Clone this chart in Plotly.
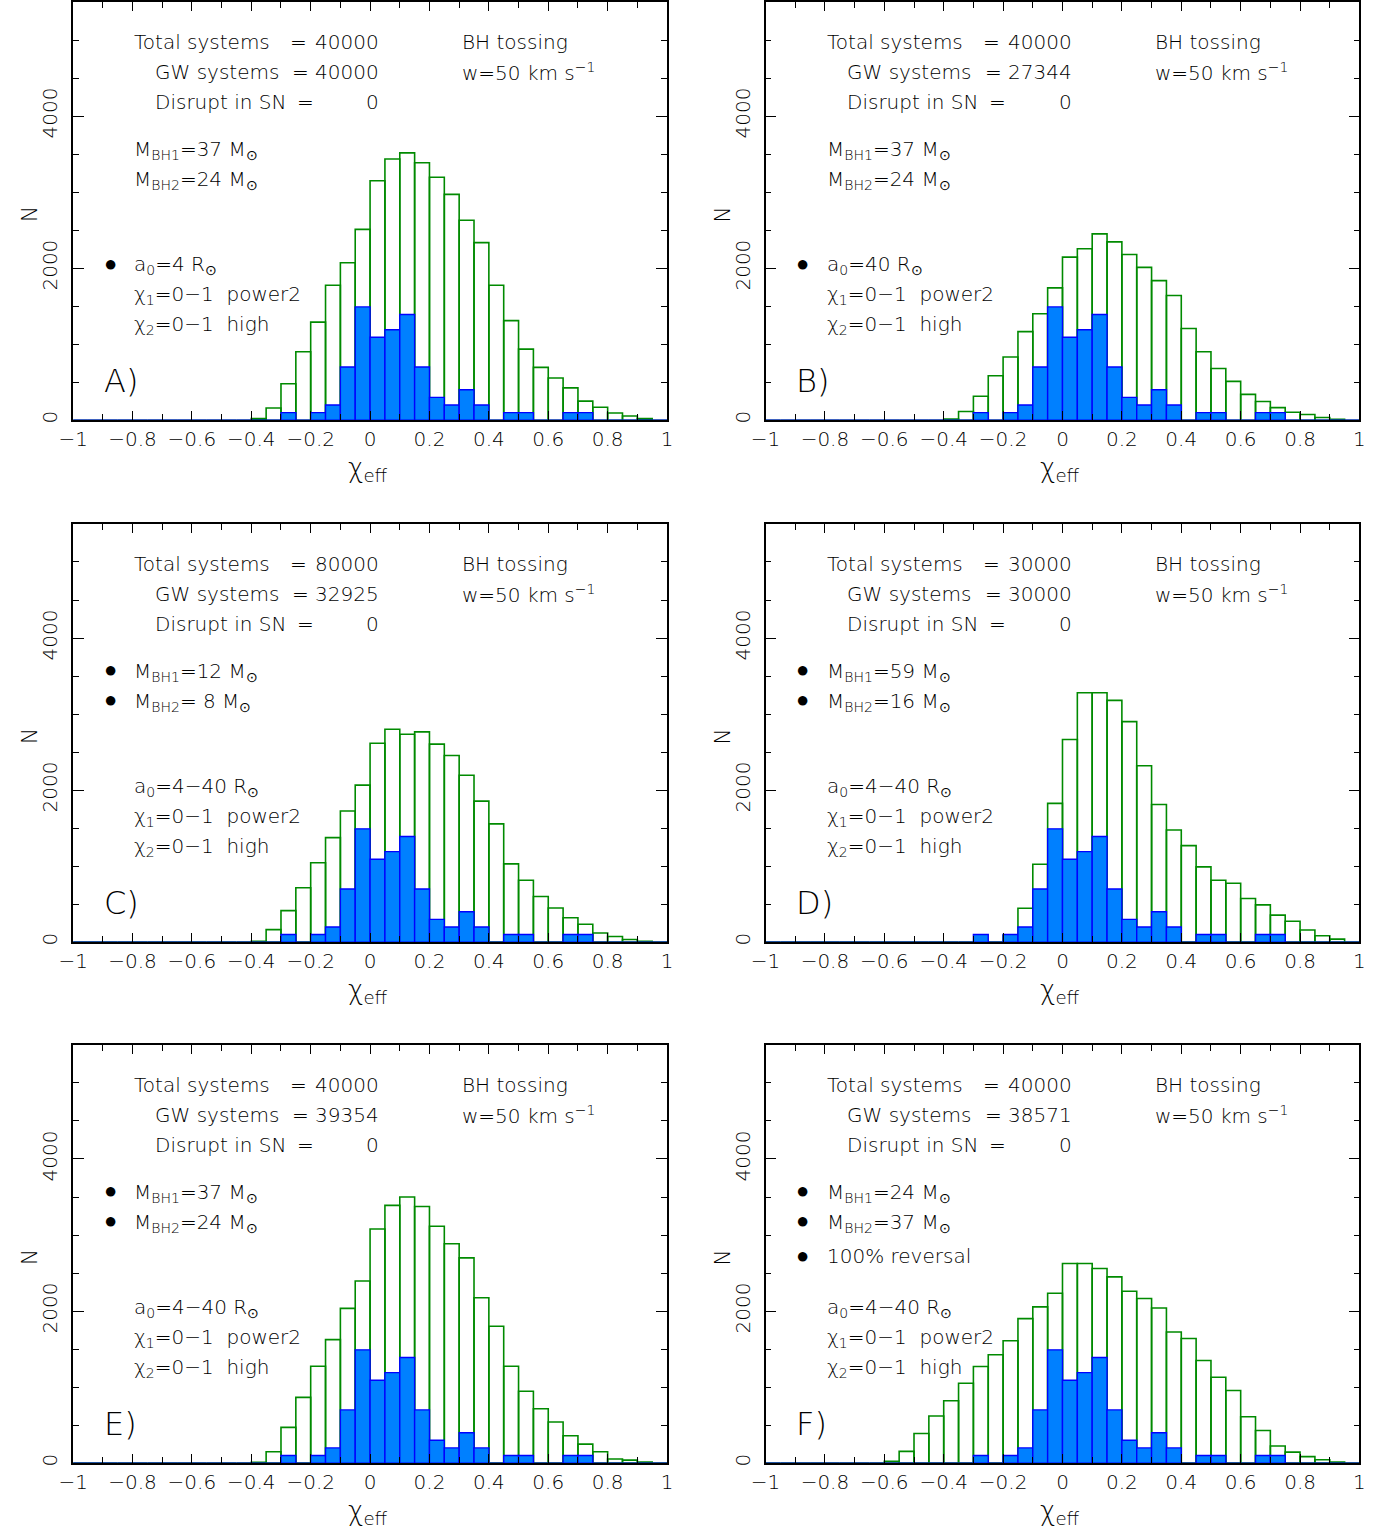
import numpy as np
import plotly.graph_objects as go

W, H = 1395, 1532

# ---------------- data ----------------
bin_edges = np.round(np.arange(-1.0, 1.0001, 0.05), 3)
bin_centers = (bin_edges[:-1] + bin_edges[1:]) / 2

observed = [0]*14 + [100, 0, 100, 200, 700, 1490, 1090, 1190, 1390, 700, 300, 200, 400, 200,
                     0, 100, 100, 0, 0, 100, 100, 0, 0, 0, 0, 0]

model_A = [0]*12 + [20, 160, 480, 900, 1290, 1775, 2070, 2510, 3150, 3435, 3515, 3385, 3195, 2970,
                    2630, 2335, 1775, 1310, 935, 695, 555, 425, 250, 170, 95, 55, 20, 0]
model_B = [0]*12 + [15, 115, 315, 585, 830, 1165, 1400, 1740, 2145, 2255, 2450, 2345, 2180, 2010,
                    1835, 1640, 1205, 900, 680, 510, 340, 245, 165, 105, 75, 35, 10, 0]
model_C = [0]*12 + [10, 165, 415, 715, 1045, 1375, 1725, 2065, 2615, 2800, 2735, 2765, 2605, 2455,
                    2195, 1855, 1555, 1030, 815, 600, 450, 320, 235, 120, 75, 35, 10, 0]
model_D = [0]*14 + [0, 0, 90, 445, 1025, 1825, 2665, 3280, 3280, 3180, 2900, 2320,
                    1810, 1475, 1270, 990, 815, 775, 575, 490, 355, 275, 160, 85, 40, 0]
model_E = [0]*12 + [10, 150, 470, 865, 1275, 1625, 2035, 2395, 3080, 3390, 3500, 3375, 3115, 2885,
                    2700, 2175, 1800, 1275, 945, 715, 540, 360, 250, 150, 55, 40, 15, 0]
model_F = [0]*8 + [25, 155, 390, 620, 820, 1050, 1270, 1425, 1610, 1900, 2055, 2235, 2625, 2625,
                   2560, 2450, 2260, 2165, 2040, 1725, 1640, 1350, 1130, 955, 610, 430, 225, 145,
                   85, 45, 15, 0]

x_tickvals = [-1, -0.8, -0.6, -0.4, -0.2, 0, 0.2, 0.4, 0.6, 0.8, 1]
x_ticktext = ["\u22121", "\u22120.8", "\u22120.6", "\u22120.4", "\u22120.2", "0", "0.2", "0.4", "0.6", "0.8", "1"]
y_tickvals = [0, 2000, 4000]
y_ticktext = ["0", "2000", "4000"]

panel_letters = ["A)", "B)", "C)", "D)", "E)", "F)"]
total_systems = ["40000", "40000", "80000", "30000", "40000", "40000"]
gw_systems = ["40000", "27344", "32925", "30000", "39354", "38571"]
disrupt = ["0", "0", "0", "0", "0", "0"]
mbh1 = ["37", "37", "12", "59", "37", "24"]
mbh2 = ["24", "24", " 8", "16", "24", "37"]
a0_text = ["4", "40", "4\u221240", "4\u221240", "4\u221240", "4\u221240"]
mass_bullet = [False, False, True, True, True, True]
a0_bullet = [True, True, False, False, False, False]
reversal = [False, False, False, False, False, True]
models = [model_A, model_B, model_C, model_D, model_E, model_F]

# ---------------- layout ----------------
lefts = [59, 762]
tops = [2, 525, 1047]
PW, PH = 603, 419

GREEN = "#008a00"
BLUE_FILL = "#0080ff"
BLUE_LINE = "#0000ff"
FONT = "DejaVu Sans"

def px(x):
    return x / W

def py(y):
    return 1 - y / H

fig = go.Figure()
annotations = []
layout = {}

for i in range(6):
    col = i % 2
    row = i // 2
    L = lefts[col]
    T = tops[row]
    n = i + 1
    xa = "x" if n == 1 else f"x{n}"
    ya = "y" if n == 1 else f"y{n}"

    fig.add_trace(go.Bar(x=bin_centers, y=models[i], width=0.05, xaxis=xa, yaxis=ya,
                         marker=dict(color="rgba(255,255,255,0)", line=dict(color=GREEN, width=1.6)),
                         showlegend=False, hoverinfo="skip"))
    fig.add_trace(go.Bar(x=bin_centers, y=observed, width=0.05, xaxis=xa, yaxis=ya,
                         marker=dict(color=BLUE_FILL, line=dict(color=BLUE_LINE, width=1.4)),
                         showlegend=False, hoverinfo="skip"))

    xkey = "xaxis" if n == 1 else f"xaxis{n}"
    ykey = "yaxis" if n == 1 else f"yaxis{n}"
    layout[xkey] = dict(domain=[px(L), px(L + PW)], anchor=ya, range=[-1, 1],
                        tickmode="array", tickvals=x_tickvals, ticktext=x_ticktext,
                        ticks="inside", ticklen=9, tickwidth=1.2, tickcolor="black",
                        minor=dict(tickmode="linear", tick0=-1, dtick=0.1, ticks="inside",
                                   ticklen=6, tickwidth=1.2, tickcolor="black"),
                        showline=True, linecolor="black", linewidth=1.5, mirror="allticks",
                        showgrid=False, zeroline=False,
                        tickfont=dict(family=FONT, size=20, color="black", weight=200))
    layout[ykey] = dict(domain=[py(T + PH), py(T)], anchor=xa, range=[0, 5500],
                        tickmode="array", tickvals=y_tickvals, ticktext=y_ticktext,
                        tickangle=-90, ticklabelstandoff=6,
                        ticks="inside", ticklen=11, tickwidth=1.2, tickcolor="black",
                        minor=dict(tickmode="linear", tick0=0, dtick=500, ticks="inside",
                                   ticklen=6, tickwidth=1.2, tickcolor="black"),
                        showline=True, linecolor="black", linewidth=1.5, mirror="allticks",
                        showgrid=False, zeroline=False,
                        tickfont=dict(family=FONT, size=20, color="black", weight=200))

    def add(text, rx, ry, xanchor="left", size=20):
        annotations.append(dict(text=text, x=px(L + rx), y=py(T + ry), xref="paper", yref="paper",
                                xanchor=xanchor, yanchor="middle", showarrow=False,
                                font=dict(family=FONT, size=size, color="black", weight=200)))

    add("Total systems", 60, 40)
    add("=", 229, 40, "center")
    add(total_systems[i], 313, 40, "right")
    add("GW systems", 81, 70)
    add("=", 231, 70, "center")
    add(gw_systems[i], 313, 70, "right")
    add("Disrupt in SN", 81, 100)
    add("=", 236, 100, "center")
    add(disrupt[i], 313, 100, "right")
    add("BH tossing", 393, 40)
    add("w=50 km s<sup>\u22121</sup>", 393, 70)

    add("M<sub>BH1</sub>=" + mbh1[i] + " M<sub>\u2299</sub>", 60, 148)
    add("M<sub>BH2</sub>=" + mbh2[i] + " M<sub>\u2299</sub>", 60, 178)
    if mass_bullet[i]:
        add("\u25cf", 38, 146, "center", 22)
        add("\u25cf", 38, 176, "center", 22)
    if reversal[i]:
        add("100% reversal", 60, 211)
        add("\u25cf", 38, 211, "center", 22)
    add("a<sub>0</sub>=" + a0_text[i] + " R<sub>\u2299</sub>", 60, 264)
    if a0_bullet[i]:
        add("\u25cf", 38, 262, "center", 22)
    add("\u03c7<sub>1</sub>=0\u22121  power2", 60, 294)
    add("\u03c7<sub>2</sub>=0\u22121  high", 60, 324)
    add(panel_letters[i], 29, 380, "left", 32)

    # axis titles
    annotations.append(dict(text="N", x=px(L - 44), y=py(T + 213), xref="paper", yref="paper",
                            xanchor="center", yanchor="middle", showarrow=False, textangle=-90,
                            font=dict(family=FONT, size=22, color="black", weight=200)))
    annotations.append(dict(text="\u03c7<sub>eff</sub>", x=px(L + 299), y=py(T + 468),
                            xref="paper", yref="paper", xanchor="center", yanchor="middle",
                            showarrow=False,
                            font=dict(family=FONT, size=26, color="black", weight=200)))

fig.update_layout(width=W, height=H, margin=dict(l=0, r=0, t=0, b=0),
                  paper_bgcolor="white", plot_bgcolor="white", barmode="overlay",
                  annotations=annotations, **layout)

fig.write_html("out.html", config={"displayModeBar": False},
               post_script="document.body.style.margin='0px';")
